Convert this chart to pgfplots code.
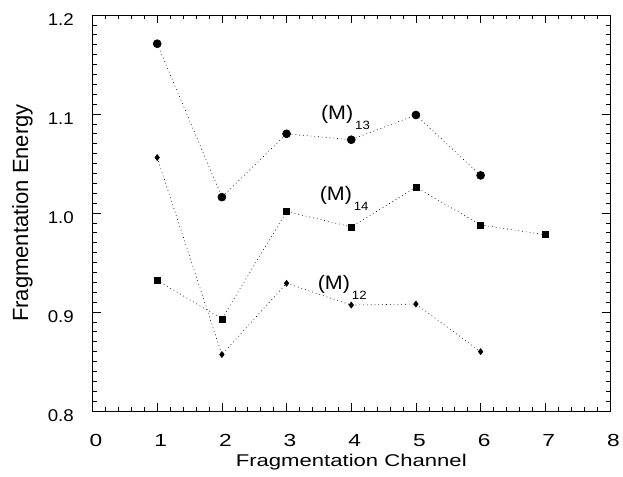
\documentclass[border=0pt]{standalone}
\usepackage{fontspec}
\setmainfont{Liberation Sans}
\newfontfamily\xfont[FakeStretch=1.3]{Liberation Sans}
\newfontfamily\yfont[FakeStretch=1.1]{Liberation Sans}
\newfontfamily\mfont[FakeStretch=1.1]{Liberation Sans}
\usepackage{pgfplots}
\pgfplotsset{compat=1.18}
\newcommand{\Mlab}[1]{{\mfont\fontsize{19.5}{20}\selectfont (M)}\hspace{2pt}\raisebox{-10pt}{\mfont\fontsize{12}{12}\selectfont #1}}
\begin{document}
\begin{tikzpicture}[x=1pt,y=1pt]
\path (-92.5,-65) rectangle (530.5,411);
\begin{axis}[at={(0,0)}, anchor=south west, scale only axis,
  width=517.5pt, height=396pt,
  xmin=0, xmax=8, ymin=0.8, ymax=1.2,
  xtick={0,1,2,3,4,5,6,7,8}, ytick={0.8,0.9,1.0,1.1,1.2},
  xticklabels={0,1,2,3,4,5,6,7,8},
  yticklabels={0.8,0.9,1.0,1.1,1.2},
  minor x tick num=4, minor y tick num=9,
  tick align=inside, major tick length=8pt, minor tick length=4.5pt,
  tick style={black, line width=0.6pt},
  axis line style={line width=0.8pt},
  xticklabel style={font=\xfont\fontsize{17.5}{18}\selectfont, anchor=base, inner sep=0pt, yshift=-35pt, xshift=3.5pt},
  yticklabel style={font=\yfont\fontsize{17}{18}\selectfont, anchor=east, inner sep=0pt, xshift=-18.5pt, yshift=-4.5pt},
  xlabel={Fragmentation Channel},
  ylabel={Fragmentation Energy},
  xlabel style={font=\xfont\fontsize{17}{18}\selectfont, at={(axis description cs:0.5,0)}, anchor=base, inner sep=0pt, yshift=-55.7pt},
  ylabel style={font=\fontsize{22}{23}\selectfont, at={(axis description cs:-0.1355,0.5)}, anchor=center, inner sep=0pt},
  clip=false,
]
% (M)13 circles
\addplot[black, line width=0.6pt, dash pattern=on 0.8pt off 3pt, mark=*, mark size=4pt, mark options={solid}]
  coordinates {(1,1.171) (2,1.016) (3,1.080) (4,1.074) (5,1.099) (6,1.038)};
% (M)14 squares
\addplot[black, line width=0.6pt, dash pattern=on 0.8pt off 3pt, mark=square*, mark size=3pt, mark options={solid}]
  coordinates {(1,0.932) (2,0.893) (3,1.0015) (4,0.986) (5,1.026) (6,0.988) (7,0.978)};
% (M)12 diamonds
\addplot[black, line width=0.6pt, dash pattern=on 0.8pt off 3pt, mark=diamond*, mark size=3pt, mark options={solid}]
  coordinates {(1,1.056) (2,0.857) (3,0.929) (4,0.907) (5,0.908) (6,0.860)};
\node[anchor=base west, inner sep=0pt] at (axis cs:3.53,1.0945) {\Mlab{13}};
\node[anchor=base west, inner sep=0pt] at (axis cs:3.51,1.0125) {\Mlab{14}};
\node[anchor=base west, inner sep=0pt] at (axis cs:3.48,0.9225) {\Mlab{12}};
\end{axis}
\end{tikzpicture}
\end{document}
